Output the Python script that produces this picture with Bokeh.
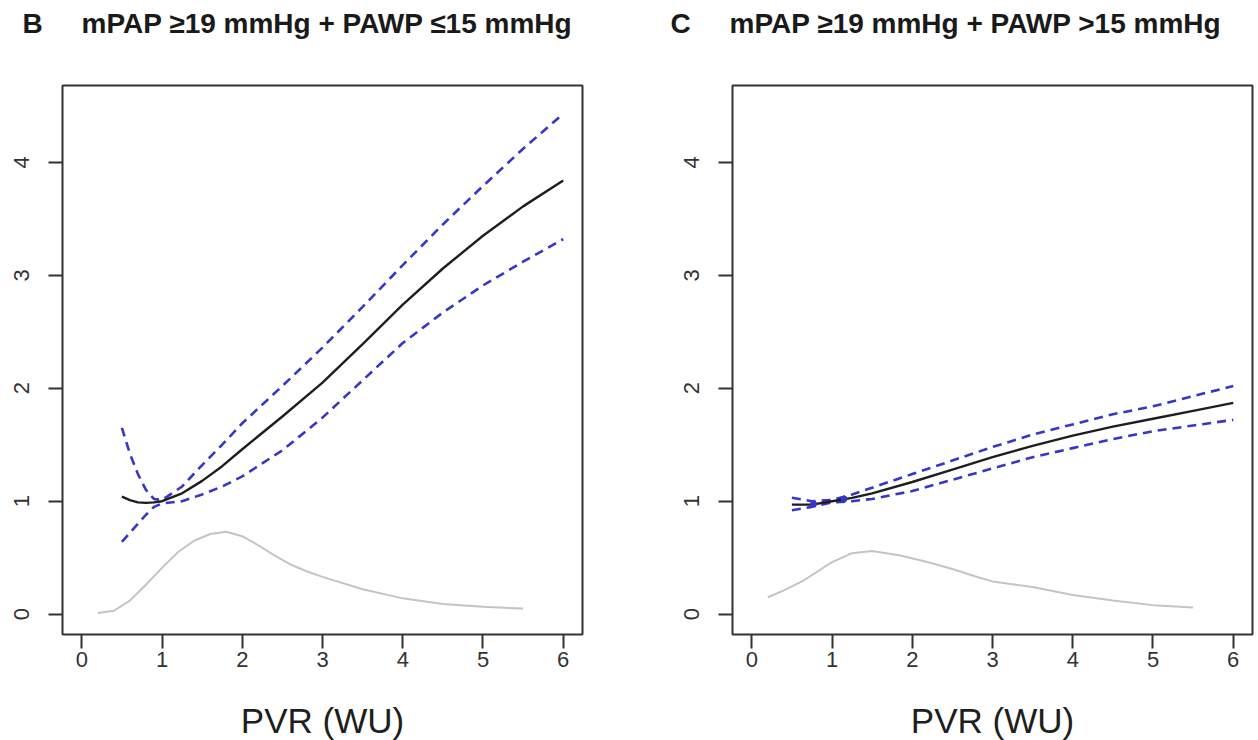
from bokeh.plotting import figure
from bokeh.layouts import row
from bokeh.models import Range1d, FixedTicker, Title
from bokeh.embed import file_html
from bokeh.resources import INLINE

# ---------------- data ----------------
x_ticks = [0, 1, 2, 3, 4, 5, 6]
y_ticks = [0, 1, 2, 3, 4]
x_label = "PVR (WU)"

titles = ["mPAP \u226519 mmHg + PAWP \u226415 mmHg", "mPAP \u226519 mmHg + PAWP >15 mmHg"]
letters = ["B", "C"]

# Panel B : hazard ratio spline and 95% CI
b_x = [0.5, 0.6, 0.7, 0.8, 0.9, 1.0, 1.25, 1.5, 1.75, 2.0, 2.5, 3.0, 3.5, 4.0, 4.5, 5.0, 5.5, 6.0]
b_hr = [1.04, 1.01, 0.99, 0.985, 0.99, 1.0, 1.07, 1.18, 1.31, 1.46, 1.75, 2.05, 2.39, 2.74, 3.06, 3.35, 3.61, 3.84]
b_upper = [1.65, 1.42, 1.24, 1.10, 1.02, 1.01, 1.13, 1.32, 1.50, 1.69, 2.02, 2.36, 2.72, 3.09, 3.45, 3.79, 4.12, 4.43]
b_lower = [0.64, 0.72, 0.80, 0.88, 0.95, 0.98, 1.0, 1.06, 1.13, 1.22, 1.45, 1.74, 2.07, 2.40, 2.67, 2.91, 3.12, 3.32]
b_dens_x = [0.2, 0.4, 0.6, 0.8, 1.0, 1.2, 1.4, 1.6, 1.8, 2.0, 2.2, 2.4, 2.6, 2.8, 3.0, 3.5, 4.0, 4.5, 5.0, 5.5]
b_dens = [0.01, 0.03, 0.12, 0.26, 0.41, 0.55, 0.65, 0.71, 0.73, 0.69, 0.61, 0.52, 0.44, 0.38, 0.33, 0.22, 0.14, 0.09, 0.065, 0.05]

# Panel C
c_x = [0.5, 0.75, 1.0, 1.25, 1.5, 2.0, 2.5, 3.0, 3.5, 4.0, 4.5, 5.0, 5.5, 6.0]
c_hr = [0.97, 0.97, 1.0, 1.03, 1.07, 1.17, 1.28, 1.39, 1.49, 1.58, 1.66, 1.73, 1.80, 1.87]
c_upper = [1.03, 1.0, 1.01, 1.06, 1.12, 1.24, 1.36, 1.48, 1.59, 1.68, 1.77, 1.84, 1.93, 2.02]
c_lower = [0.92, 0.95, 0.99, 1.0, 1.02, 1.09, 1.19, 1.29, 1.39, 1.47, 1.55, 1.62, 1.67, 1.72]
c_dens_x = [0.2, 0.4, 0.65, 1.0, 1.25, 1.5, 1.85, 2.2, 2.5, 2.85, 3.0, 3.5, 4.0, 4.5, 5.0, 5.5]
c_dens = [0.15, 0.21, 0.30, 0.46, 0.54, 0.56, 0.52, 0.46, 0.40, 0.32, 0.29, 0.24, 0.17, 0.12, 0.08, 0.06]
c_knot_x = [0.77, 1.15]
c_knot_y = [0.975, 1.02]

X_RANGE = (-0.24, 6.24)
Y_RANGE = (-0.18, 4.68)

FONT = "Liberation Sans"
AX_COL = "#333333"
CI_COL = "#3636c8"
NB = "\u00a0"


def panel(letter, title, hx, hr, up, lo, dx, dy, left_border, frame_w, right_border,
          title_offset, gap):
    frame_h = 549
    p = figure(frame_width=frame_w, frame_height=frame_h,
               min_border_left=left_border, min_border_right=right_border,
               min_border_top=85, min_border_bottom=104,
               x_range=Range1d(*X_RANGE), y_range=Range1d(*Y_RANGE),
               output_backend="svg", toolbar_location=None,
               background_fill_color="white", border_fill_color="white",
               title=letter + NB * gap + title)
    # real title (outermost panel)
    p.title.align = "left"
    p.title.offset = title_offset
    p.title.standoff = 0
    p.title.text_font = FONT
    p.title.text_font_style = "bold"
    p.title.text_font_size = "28px"
    p.title.text_color = "#1a1a1a"
    # invisible spacer between the frame and the title
    p.add_layout(Title(text=NB, text_font_size="10px", standoff=34,
                       text_color="white"), "above")

    p.grid.visible = False
    p.outline_line_color = AX_COL
    p.outline_line_width = 2
    p.outline_line_alpha = 1

    for ax in (p.xaxis[0], p.yaxis[0]):
        ax.axis_line_color = None
        ax.major_tick_out = 14
        ax.major_tick_in = 0
        ax.minor_tick_line_color = None
        ax.major_tick_line_color = AX_COL
        ax.major_tick_line_width = 2
        ax.major_label_text_font = FONT
        ax.major_label_text_font_size = "22px"
        ax.major_label_text_color = AX_COL
    p.xaxis.ticker = FixedTicker(ticks=x_ticks)
    p.yaxis.ticker = FixedTicker(ticks=y_ticks)
    p.xaxis.major_label_standoff = 3
    p.yaxis.major_label_standoff = 19
    p.yaxis.major_label_orientation = "vertical"
    p.xaxis.axis_label = x_label
    p.xaxis.axis_label_text_font = FONT
    p.xaxis.axis_label_text_font_style = "normal"
    p.xaxis.axis_label_text_font_size = "35px"
    p.xaxis.axis_label_text_color = "#1e1e1e"
    p.xaxis.axis_label_standoff = 31

    # density curve
    p.line(dx, dy, line_color="#c4c4c4", line_width=2)
    # CI and HR
    p.line(hx, up, line_color=CI_COL, line_width=2.6, line_dash="9 6")
    p.line(hx, lo, line_color=CI_COL, line_width=2.6, line_dash="9 6")
    p.line(hx, hr, line_color="#1e1e1e", line_width=2.4)
    return p


p1 = panel(letters[0], titles[0], b_x, b_hr, b_upper, b_lower, b_dens_x, b_dens,
           62, 520, 47, -40, 5)
p2 = panel(letters[1], titles[1], c_x, c_hr, c_upper, c_lower, c_dens_x, c_dens,
           103, 520, 4, -62, 5)
p2.scatter(c_knot_x, c_knot_y, size=6, color=CI_COL)

layout = row(p1, p2, spacing=0)
open("out.html", "w").write(file_html(layout, INLINE))
